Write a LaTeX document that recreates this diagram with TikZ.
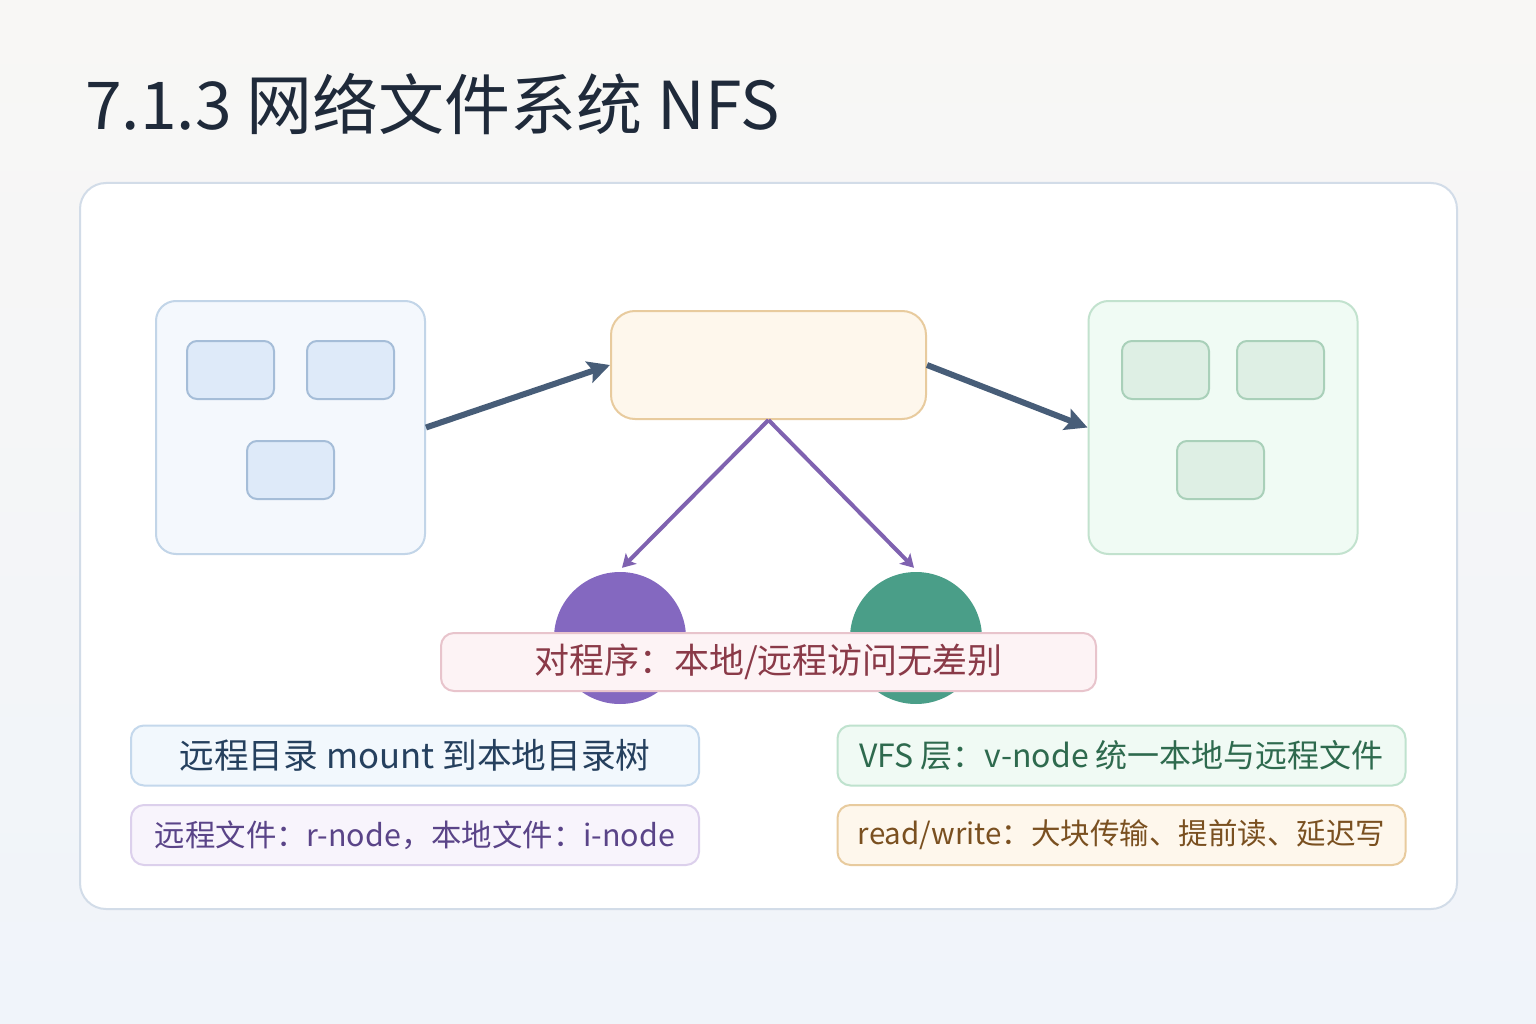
\documentclass[tikz,border=0pt]{standalone}
\usepackage{fontspec}
\setmainfont{Noto Sans CJK SC}
\usetikzlibrary{arrows.meta,calc}
\definecolor{bgtop}{HTML}{F8F7F5}
\definecolor{bgbot}{HTML}{F0F4FA}
\definecolor{titlec}{HTML}{1F2A3A}
\definecolor{cardb}{HTML}{D2DCE8}
\definecolor{bluef}{HTML}{F4F8FD}
\definecolor{blueb}{HTML}{C2D5E8}
\definecolor{blueif}{HTML}{DEEAF9}
\definecolor{blueib}{HTML}{A5BDD8}
\definecolor{greenf}{HTML}{F0FBF4}
\definecolor{greenb}{HTML}{C2E2CE}
\definecolor{greenif}{HTML}{DEEFE4}
\definecolor{greenib}{HTML}{A9D0B9}
\definecolor{orangef}{HTML}{FEF7EC}
\definecolor{orangeb}{HTML}{E8CB9E}
\definecolor{arrowc}{HTML}{475D78}
\definecolor{purplec}{HTML}{7F62B0}
\definecolor{purplef}{HTML}{8468C0}
\definecolor{greenc}{HTML}{4A9E88}
\definecolor{pinkf}{HTML}{FDF3F5}
\definecolor{pinkb}{HTML}{E8C4CC}
\definecolor{pinkt}{HTML}{8A3A48}
\definecolor{t1f}{HTML}{F2F8FD}
\definecolor{t1b}{HTML}{C4D8EC}
\definecolor{t1t}{HTML}{25405E}
\definecolor{t2f}{HTML}{F8F4FC}
\definecolor{t2b}{HTML}{DCD0EC}
\definecolor{t2t}{HTML}{5A4488}
\definecolor{t3f}{HTML}{F0FAF4}
\definecolor{t3b}{HTML}{BFE2CE}
\definecolor{t3t}{HTML}{2E6A4E}
\definecolor{t4t}{HTML}{7A5020}
\tikzset{
  panel/.style={draw, line width=2pt, rounded corners=20pt, minimum width=269pt, minimum height=253pt, inner sep=0pt},
  inbox/.style={draw, line width=2pt, rounded corners=10pt, minimum width=87pt, minimum height=58pt, inner sep=0pt},
  darrow/.style={draw=arrowc, line width=6pt, -{Stealth[length=22pt,width=22pt,inset=4pt]}},
  parrow/.style={draw=purplec, line width=4pt, -{Stealth[length=13pt,width=15pt,inset=3pt]}},
  tbox/.style={draw, line width=2pt, rounded corners=13pt, minimum width=568pt, minimum height=60pt, inner sep=0pt, font=\fontsize{32pt}{36pt}\selectfont},
}
\begin{document}
\begin{tikzpicture}[x=1pt,y=-1pt]
\useasboundingbox (0,0) rectangle (1536,1024);
\shade[top color=bgtop, bottom color=bgbot] (0,0) rectangle (1536,1024);
\node[anchor=base west, inner sep=0pt, text=titlec, font=\fontsize{66pt}{74pt}\selectfont] (title) at (85,130) {7.1.3 网络文件系统 NFS};
\node[draw=cardb, fill=white, line width=2pt, rounded corners=26pt, minimum width=1377pt, minimum height=726pt, inner sep=0pt] (card) at (768.5,546) {};
% left panel
\node[panel, draw=blueb, fill=bluef] (L) at (290.5,427.5) {};
\node[inbox, draw=blueib, fill=blueif] (L1) at (230.5,370) {};
\node[inbox, draw=blueib, fill=blueif] (L2) at (350.5,370) {};
\node[inbox, draw=blueib, fill=blueif] (L3) at (290.5,470) {};
% center
\node[draw=orangeb, fill=orangef, line width=2pt, rounded corners=24pt, minimum width=315pt, minimum height=108pt, inner sep=0pt] (C) at (768.5,365) {};
% right panel
\node[panel, draw=greenb, fill=greenf] (R) at (1223,427.5) {};
\node[inbox, draw=greenib, fill=greenif] (R1) at (1165.5,370) {};
\node[inbox, draw=greenib, fill=greenif] (R2) at (1280.5,370) {};
\node[inbox, draw=greenib, fill=greenif] (R3) at (1220.5,470) {};
% arrows
\draw[darrow] (L.east) -- (C.west);
\draw[darrow] (C.east) -- (R.west);
% circles
\node[circle, fill=purplef, minimum size=132pt, inner sep=0pt] (P) at (620,638) {};
\node[circle, fill=greenc, minimum size=132pt, inner sep=0pt] (G) at (916,638) {};
\draw[parrow] (C.south) -- ([yshift=4pt,xshift=2pt]P.north);
\draw[parrow] (C.south) -- ([yshift=4pt,xshift=-2pt]G.north);
% banner
\node[draw=pinkb, fill=pinkf, line width=2pt, rounded corners=13pt, minimum width=655pt, minimum height=58pt, inner sep=0pt, text=pinkt, font=\fontsize{35pt}{40pt}\selectfont] (B) at (768.5,662) {对程序：本地/远程访问无差别};
% text boxes
\node[tbox, draw=t1b, fill=t1f, text=t1t, font=\fontsize{34.7pt}{38pt}\selectfont] (T1) at (415,755.5) {远程目录 mount 到本地目录树};
\node[tbox, draw=t2b, fill=t2f, text=t2t, font=\fontsize{30.4pt}{36pt}\selectfont] (T2) at (415,835) {远程文件：r-node，本地文件：i-node};
\node[tbox, draw=t3b, fill=t3f, text=t3t] (T3) at (1121.5,755.5) {VFS 层：v-node 统一本地与远程文件};
\node[tbox, draw=orangeb, fill=orangef, text=t4t, font=\fontsize{29.5pt}{36pt}\selectfont] (T4) at (1121.5,835) {read/write：大块传输、提前读、延迟写};
\end{tikzpicture}
\end{document}
